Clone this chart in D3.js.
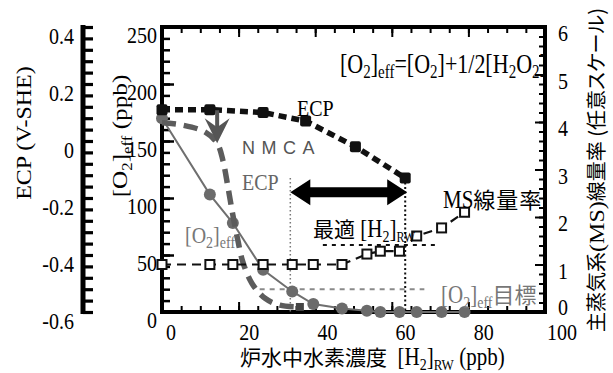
<!DOCTYPE html>
<html><head><meta charset="utf-8">
<script src="https://cdn.jsdelivr.net/npm/d3@7"></script>
<style>body{margin:0;background:#fff}svg{display:block}svg text{white-space:pre}</style>
</head><body><svg id="c" width="613" height="373"></svg>
<script>
// Hydrogen concentration in reactor water (ppb) for the O2eff / MS series
const h2x    = [0, 12.5, 18.5, 26.4, 34, 39.5, 47, 53.5, 57, 62, 66.5, 73, 79];
const o2eff  = [170, 103, 78, 37, 18, 7, 3, 1, 0, 0, 0, 0, 0];
const msDose = [1.0, 1.0, 1.0, 1.0, 1.0, 1.0, 1.0, 1.22, 1.28, 1.28, 1.6, 1.77, 2.1];
// ECP (V-SHE)
const ecpX = [0, 12.5, 26.4, 37.5, 50.5, 63.5];
const ecpV = [0.11, 0.11, 0.10, 0.07, -0.02, -0.13];
// O2eff curve under NMCA
const nmcaX  = [0, 5.2, 11.2, 14.4, 15.9, 17.2, 18.5, 19.8, 21.1, 23.5, 26.9, 30.8, 36];
const nmcaO2 = [166, 164, 158, 148, 133, 110, 85, 63, 44, 25, 12, 6, 4.4];
// reference levels
const optH2 = [33.5, 63.5];
const o2Target = 20, o2TargetSpan = [25.5, 68.5];
const msTarget = 1.41, msTargetSpan = [42, 72];
// tick values
const xTicks = [0, 20, 40, 60, 80, 100];
const o2Ticks = [0, 50, 100, 150, 200, 250];
const ecpTicks = [-0.6, -0.4, -0.2, 0, 0.2, 0.4];
const msTicks = [0, 1, 2, 3, 4, 5, 6];

const SERIF = "'Liberation Serif','Times New Roman',serif";
const CJK = "'Noto Sans CJK JP','Noto Sans CJK SC',sans-serif";
const SANS = "'Liberation Sans',Arial,sans-serif";
const STRETCH = 1.2;

const svg = d3.select("#c");
const L = 162, R = 545, T = 27, B = 312;
const x = d3.scaleLinear([0, 100], [L, R]);
const xLab = d3.scaleLinear([0, 100], [171, 562]);
const yO2 = d3.scaleLinear([0, 250], [B, T]);
const yECP = d3.scaleLinear([-0.6, 0.4], [B, T]);
const yMS = d3.scaleLinear([0, 6], [B, T]);

// text made of runs in different fonts; serif runs are drawn slightly tall
function rich(parent, px, py, segs, opt = {}) {
  const anchor = opt.anchor || 'start', rot = !!opt.rotate, fill = opt.fill || '#000';
  const g = parent.append('g').attr('transform', `translate(${px},${py})${rot ? ' rotate(-90)' : ''}`);
  let cx = 0; const items = [];
  segs.forEach(s => {
    const f = s.f || 'serif';
    const font = f === 'cjk' ? CJK : f === 'sans' ? SANS : SERIF;
    const sx = (f === 'serif' && rot) ? STRETCH : 1;
    const sy = (f === 'serif' && !rot) ? STRETCH : 1;
    const t = g.append('text').attr('font-family', font).attr('font-size', s.size)
      .attr('fill', s.fill || fill).text(s.t);
    if (s.ls) t.attr('letter-spacing', s.ls);
    if (s.palt) t.style('font-feature-settings', '"palt"');
    const w = t.node().getComputedTextLength() * sx;
    items.push({ t, cx, dy: s.dy || 0, sx, sy });
    cx += w;
  });
  const off = anchor === 'middle' ? -cx / 2 : anchor === 'end' ? -cx : 0;
  items.forEach(it => it.t.attr('transform', `translate(${it.cx + off},${it.dy}) scale(${it.sx},${it.sy})`));
  return g;
}
const N = (t, size = 20, extra = {}) => Object.assign({ t, size, f: 'serif' }, extra);
const S = (t, size = 14, extra = {}) => Object.assign({ t, size, f: 'serif', dy: 5 }, extra);
const J = (t, size = 20, extra = {}) => Object.assign({ t, size, f: 'cjk' }, extra);

// tick marks
function tickSet(axis, scale, values, size, tr, w) {
  const g = svg.append('g').attr('transform', tr)
    .call(axis(scale).tickValues(values).tickSize(size).tickFormat(''));
  g.select('.domain').remove();
  g.selectAll('line').attr('stroke', '#000').attr('stroke-width', w);
}
tickSet(d3.axisRight, yO2, d3.range(0, 251, 10), 8, `translate(${L},0)`, 2.5);
tickSet(d3.axisRight, yO2, o2Ticks, 12, `translate(${L},0)`, 2.5);
tickSet(d3.axisLeft, yMS, d3.range(0, 6.01, 0.2), 6, `translate(${R},0)`, 2);
tickSet(d3.axisLeft, yMS, msTicks, 10, `translate(${R},0)`, 2);
tickSet(d3.axisTop, x, d3.range(0, 101, 5), 6, `translate(0,${B})`, 2);
tickSet(d3.axisTop, x, xTicks, 10, `translate(0,${B})`, 2);
tickSet(d3.axisBottom, x, d3.range(0, 101, 5), 6, `translate(0,${T})`, 2);
tickSet(d3.axisBottom, x, xTicks, 10, `translate(0,${T})`, 2);
// ECP axis, standing apart on the far left
const ecpAxX = 83;
tickSet(d3.axisRight, yECP, d3.range(-0.6, 0.401, 0.04), 10, `translate(${ecpAxX},0)`, 3.2);
svg.append('line').attr('x1', ecpAxX).attr('x2', ecpAxX).attr('y1', T - 2).attr('y2', B + 2)
  .attr('stroke', '#000').attr('stroke-width', 5);

// frame
svg.append('rect').attr('x', L).attr('y', T).attr('width', R - L).attr('height', B - T)
  .attr('fill', 'none').attr('stroke', '#000').attr('stroke-width', 4);

// tick labels
o2Ticks.forEach(v => rich(svg, L - 5, yO2(v) + 16, [N(String(v))], { anchor: 'end' }));
ecpTicks.forEach(v => rich(svg, 74, yECP(v) + 17, [N(v === 0 ? '0' : v.toFixed(1))], { anchor: 'end' }));
msTicks.forEach(v => rich(svg, 558, yMS(v) + (v === 0 ? 3 : 14), [N(String(v))]));
xTicks.forEach(v => rich(svg, xLab(v), 340, [N(String(v))], { anchor: 'middle' }));

// axis titles
rich(svg, 31, 133, [N('ECP (V-SHE)', 20)], { rotate: true, anchor: 'middle' });
rich(svg, 127, 136, [N('[O', 21), S('2', 14), N(']', 21), S('eff', 14), N(' (ppb)', 21)], { rotate: true, anchor: 'middle' });
rich(svg, 604, 170, [J('主蒸気系'), N('(MS)', 20), J('線量率 ('), J('任意スケール', 20, { palt: true }), J(')')], { rotate: true, anchor: 'middle' });
rich(svg, 240, 365, [J('炉水中水素濃度', 21), N('  [H', 21), S('2', 14), N(']', 21), S('RW', 13), N(' (ppb)', 21)]);

// reference lines
svg.append('line').attr('x1', x(o2TargetSpan[0])).attr('x2', x(o2TargetSpan[1]))
  .attr('y1', yO2(o2Target)).attr('y2', yO2(o2Target))
  .attr('stroke', '#8a8a8a').attr('stroke-width', 2).attr('stroke-dasharray', '5,5');
svg.append('line').attr('x1', x(msTargetSpan[0])).attr('x2', x(msTargetSpan[1]))
  .attr('y1', yMS(msTarget)).attr('y2', yMS(msTarget))
  .attr('stroke', '#111').attr('stroke-width', 2).attr('stroke-dasharray', '4,5');
const ecpLow = ecpV[ecpV.length - 1];
svg.append('line').attr('x1', x(optH2[0])).attr('x2', x(optH2[0]))
  .attr('y1', yECP(ecpLow)).attr('y2', B)
  .attr('stroke', '#777').attr('stroke-width', 1.5).attr('stroke-dasharray', '1.5,2.5');
svg.append('line').attr('x1', x(optH2[1])).attr('x2', x(optH2[1]))
  .attr('y1', yECP(ecpLow)).attr('y2', B)
  .attr('stroke', '#111').attr('stroke-width', 2).attr('stroke-dasharray', '2,2.5');

// O2eff (solid grey line with dots)
const o2pts = h2x.map((h, i) => [x(h), yO2(o2eff[i])]);
svg.append('path').attr('d', d3.line()(o2pts)).attr('fill', 'none')
  .attr('stroke', '#6f6f6f').attr('stroke-width', 2);
svg.selectAll('.o2dot').data(o2pts).join('circle').attr('class', 'o2dot')
  .attr('cx', d => d[0]).attr('cy', d => d[1]).attr('r', 6).attr('fill', '#6b6b6b');

// NMCA curve
const nmPts = nmcaX.map((h, i) => [x(h), yO2(nmcaO2[i])]);
svg.append('path').attr('d', d3.line().curve(d3.curveCatmullRom)(nmPts)).attr('fill', 'none')
  .attr('stroke', '#5c5c5c').attr('stroke-width', 5.5).attr('stroke-dasharray', '14,8');
const nmEnd = nmPts[nmPts.length - 1];
svg.append('rect').attr('x', nmEnd[0] - 4).attr('y', nmEnd[1] - 4).attr('width', 8).attr('height', 8).attr('fill', '#444');

// MS dose rate (dashed line, open squares)
const msPts = h2x.map((h, i) => [x(h), yMS(msDose[i])]);
svg.append('path').attr('d', d3.line()(msPts)).attr('fill', 'none')
  .attr('stroke', '#111').attr('stroke-width', 2.2).attr('stroke-dasharray', '9,6');
svg.selectAll('.ms').data(msPts).join('rect').attr('class', 'ms')
  .attr('x', d => d[0] - 4.5).attr('y', d => d[1] - 4.5).attr('width', 9).attr('height', 9)
  .attr('fill', '#fff').attr('stroke', '#111').attr('stroke-width', 2);

// ECP (bold dashed line, filled squares)
const ecpPts = ecpX.map((h, i) => [x(h), yECP(ecpV[i])]);
svg.append('path').attr('d', d3.line()(ecpPts)).attr('fill', 'none')
  .attr('stroke', '#111').attr('stroke-width', 5.5).attr('stroke-dasharray', '8,5');
svg.selectAll('.ecp').data(ecpPts).join('rect').attr('class', 'ecp')
  .attr('x', d => d[0] - 5.5).attr('y', d => d[1] - 5.5).attr('width', 11).attr('height', 11)
  .attr('rx', 2).attr('fill', '#111');

// NMCA arrow
const ax = x(14.4), aTop = yO2(177), aTip = yO2(148);
svg.append('line').attr('x1', ax).attr('x2', ax).attr('y1', aTop).attr('y2', aTip - 12)
  .attr('stroke', '#555').attr('stroke-width', 4);
svg.append('path').attr('d', `M${ax},${aTip} L${ax - 12.5},${aTip - 25} L${ax},${aTip - 16} L${ax + 12.5},${aTip - 25} Z`)
  .attr('fill', '#555');

// optimal H2 range double arrow
const dy = yO2(105), x0 = x(optH2[0]), x1 = x(optH2[1]) + 2;
svg.append('path').attr('d',
  `M${x0},${dy} L${x0 + 20},${dy - 13} L${x0 + 20},${dy - 5} L${x1 - 20},${dy - 5} L${x1 - 20},${dy - 13} L${x1},${dy}` +
  ` L${x1 - 20},${dy + 13} L${x1 - 20},${dy + 5} L${x0 + 20},${dy + 5} L${x0 + 20},${dy + 13} Z`)
  .attr('fill', '#000');

// labels in the plot
svg.append('clipPath').attr('id', 'plotClip').append('rect')
  .attr('x', L).attr('y', T).attr('width', R - L - 1).attr('height', B - T);
const formula = svg.append('g').attr('clip-path', 'url(#plotClip)');
rich(formula, 340, 73, [N('[O', 22), S('2', 15), N(']', 22), S('eff', 15), N('=[O', 22), S('2', 15), N(']+1/2[H', 22), S('2', 15), N('O', 22), S('2', 15), N(']', 22)]);
rich(svg, 297, 116, [N('ECP', 20)]);
rich(svg, 242, 154, [{ t: 'NMCA', size: 18, f: 'sans', ls: 6.5, fill: '#555' }]);
rich(svg, 242, 190, [N('ECP', 20)], { fill: '#666' });
rich(svg, 185, 243, [N('[O', 20), S('2'), N(']', 20), S('eff')], { fill: '#777' });
rich(svg, 313, 237, [J('最適', 21), N(' [H', 21), S('2'), N(']', 21), S('RW', 12)]);
rich(svg, 443, 208, [N('MS', 21), J('線量率', 22, { ls: 1 })]);
rich(svg, 441, 303, [N('[O', 21), S('2'), N(']', 21), S('eff'), J('目標', 22)], { fill: '#777' });
</script></body></html>
